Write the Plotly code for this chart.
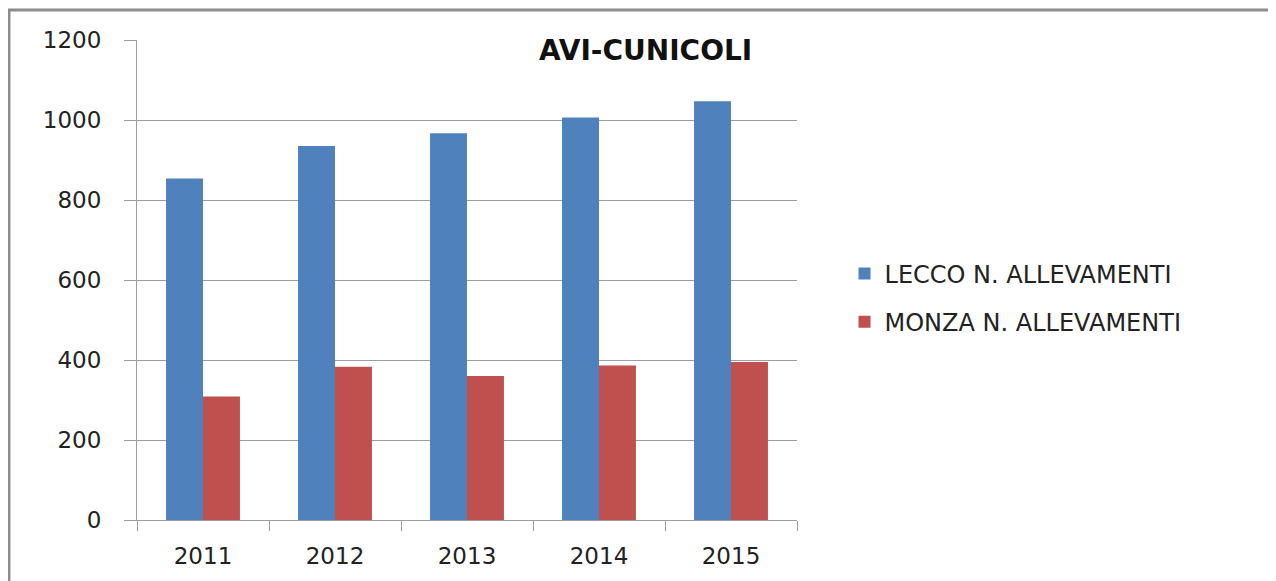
import plotly.graph_objects as go

anni = ["2011", "2012", "2013", "2014", "2015"]
lecco = [854, 935, 967, 1006, 1047]
monza = [309, 383, 360, 386, 395]

fig = go.Figure()
fig.add_trace(go.Bar(x=anni, y=lecco, name="LECCO N. ALLEVAMENTI",
                     marker=dict(color="#4F81BD", line=dict(width=0)),
                     legendgroup="a"))
fig.add_trace(go.Bar(x=anni, y=monza, name="MONZA N. ALLEVAMENTI",
                     marker=dict(color="#C0504D", line=dict(width=0)),
                     legendgroup="b"))

fig.update_layout(
    width=1268, height=573,
    margin=dict(l=129, r=479, t=32, b=61),
    paper_bgcolor="white", plot_bgcolor="white",
    barmode="group", bargap=0.44, bargroupgap=0,
    font=dict(family="DejaVu Sans", size=23, color="#222222"),
    showlegend=True,
    legend=dict(x=1.072, y=0.4625, xanchor="left", yanchor="middle",
                traceorder="grouped", tracegroupgap=14,
                font=dict(size=24, family="DejaVu Sans"),
                itemwidth=30, bgcolor="rgba(0,0,0,0)"),
    annotations=[dict(text="<b>AVI-CUNICOLI</b>", xref="paper", yref="paper",
                      x=0.771, y=0.979, xanchor="center", yanchor="middle",
                      showarrow=False,
                      font=dict(family="DejaVu Sans", size=28, color="#111111"))],
    shapes=[dict(type="rect", xref="paper", yref="paper",
                 x0=-0.194, x1=1.718, y0=-0.2, y1=1.0625,
                 line=dict(color="#8c8c8c", width=3))],
)

fig.update_yaxes(range=[0, 1200], dtick=200, showgrid=True, gridcolor="#9e9e9e",
                 gridwidth=1, showline=True, linecolor="#9e9e9e", linewidth=1,
                 ticks="outside", ticklen=12, tickcolor="#9e9e9e",
                 ticklabelstandoff=18, zeroline=False)
fig.update_xaxes(showgrid=False, showline=True, linecolor="#9e9e9e", linewidth=1,
                 ticks="outside", ticklen=10, tickcolor="#9e9e9e",
                 tickson="boundaries", ticklabelstandoff=15, mirror=False)

fig.write_html("out.html")
